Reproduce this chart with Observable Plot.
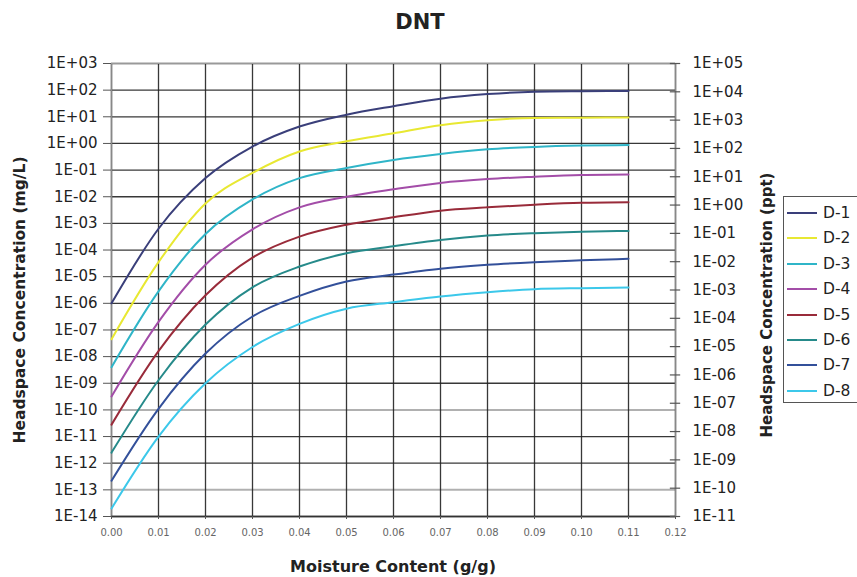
<!DOCTYPE html>
<html>
<head>
<meta charset="utf-8">
<script src="https://cdn.jsdelivr.net/npm/d3@7"></script>
<script src="https://cdn.jsdelivr.net/npm/@observablehq/plot@0.6"></script>
<style>
  body { margin: 0; background: #fff; }
  #wrap { position: relative; width: 857px; height: 577px; overflow: hidden; font-family: "DejaVu Sans", Arial, sans-serif; color: #222; }
  #wrap > svg { position: absolute; left: 0; top: 0; font-family: "DejaVu Sans", Arial, sans-serif; }
  .lbl { position: absolute; white-space: nowrap; transform: translate(-50%, -50%); font-weight: bold; color: #222; }
  .rot { transform: translate(-50%, -50%) rotate(-90deg); }
  #legend { position: absolute; left: 783px; top: 196px; width: 100px; height: 205px; border: 1px solid #555; background: #fff; }
  .item { position: absolute; left: 0; height: 20px; display: flex; align-items: center; font-size: 15.5px; color: #222; }
  .item svg { display: block; margin-left: 3px; margin-right: 6px; }
</style>
</head>
<body>
<div id="wrap"></div>
<script>
// ---- data ----
const moisture = [0.00, 0.01, 0.02, 0.03, 0.04, 0.05, 0.06, 0.07, 0.08, 0.09, 0.10, 0.11];
const seriesNames = ["D-1", "D-2", "D-3", "D-4", "D-5", "D-6", "D-7", "D-8"];
const seriesColors = ["#3a3f7a", "#e8e832", "#2fb5c8", "#a34da8", "#992b3a", "#268a8a", "#33509a", "#3cc8ea"];
const d1 = [1.0e-6, 6.3e-4, 5.0e-2, 7.6e-1, 4.3, 12, 25, 48, 71, 87, 91, 93];
const d2 = [4.5e-8, 3.5e-5, 5.6e-3, 7.8e-2, 5.0e-1, 1.2, 2.4, 4.8, 7.4, 9.1, 9.3, 9.4];
const d3v = [4.0e-9, 2.8e-6, 4.0e-4, 7.9e-3, 5.0e-2, 1.2e-1, 2.4e-1, 4.0e-1, 6.0e-1, 7.4e-1, 8.3e-1, 8.7e-1];
const d4 = [3.2e-10, 2.0e-7, 2.8e-5, 6.0e-4, 4.0e-3, 1.0e-2, 1.9e-2, 3.3e-2, 4.6e-2, 5.6e-2, 6.5e-2, 6.8e-2];
const d5 = [2.8e-11, 1.6e-8, 2.0e-6, 5.2e-5, 3.2e-4, 8.9e-4, 1.7e-3, 3.0e-3, 4.0e-3, 5.0e-3, 5.9e-3, 6.2e-3];
const d6 = [2.5e-12, 1.3e-9, 1.6e-7, 4.0e-6, 2.4e-5, 7.6e-5, 1.4e-4, 2.4e-4, 3.5e-4, 4.3e-4, 4.9e-4, 5.2e-4];
const d7 = [2.2e-13, 1.1e-10, 1.3e-8, 3.2e-7, 1.9e-6, 6.6e-6, 1.2e-5, 2.0e-5, 2.8e-5, 3.5e-5, 4.1e-5, 4.7e-5];
const d8 = [2.0e-14, 1.0e-11, 1.0e-9, 2.3e-8, 1.7e-7, 6.3e-7, 1.1e-6, 1.8e-6, 2.6e-6, 3.4e-6, 3.7e-6, 3.9e-6];
const seriesValues = [d1, d2, d3v, d4, d5, d6, d7, d8];

const leftTickExps = [3, 2, 1, 0, -1, -2, -3, -4, -5, -6, -7, -8, -9, -10, -11, -12, -13, -14];
const rightTickExps = [5, 4, 3, 2, 1, 0, -1, -2, -3, -4, -5, -6, -7, -8, -9, -10, -11];
const xTicks = [0.00, 0.01, 0.02, 0.03, 0.04, 0.05, 0.06, 0.07, 0.08, 0.09, 0.10, 0.11, 0.12];
const lightGridExps = [-10, -13];

const chartTitle = "DNT";
const xTitle = "Moisture Content (g/g)";
const yLeftTitle = "Headspace Concentration (mg/L)";
const yRightTitle = "Headspace Concentration (ppt)";

// ---- build ----
const rows = seriesNames.flatMap((name, i) =>
  moisture.map((m, j) => ({ series: name, x: m, y: seriesValues[i][j] })));

const expFmt = e => "1E" + (e >= 0 ? "+" : "-") + String(Math.abs(e)).padStart(2, "0");
const leftTicks = leftTickExps.map(e => 10 ** e);
const darkGrid = leftTicks.filter((t, i) => !lightGridExps.includes(leftTickExps[i]));
const lightGrid = lightGridExps.map(e => 10 ** e);
// secondary axis: 1E+05..1E-11 (ppt) spans the same height as 1E+03..1E-14 (mg/L)
const rightToLeft = e => 10 ** (-14 + (e + 11) * 17 / 16);

const chart = Plot.plot({
  width: 857,
  height: 577,
  marginLeft: 111,
  marginRight: 182,
  marginTop: 63,
  marginBottom: 61,
  x: { domain: [0, 0.12] },
  y: { type: "log", domain: [1e-14, 1e3] },
  color: { domain: seriesNames, range: seriesColors },
  marks: [
    Plot.gridY(lightGrid, { stroke: "#b0b0b0", strokeOpacity: 1, strokeWidth: 2 }),
    Plot.gridY(darkGrid, { stroke: "#222", strokeOpacity: 0.9, strokeWidth: 1.3 }),
    Plot.gridX(xTicks, { stroke: "#222", strokeOpacity: 0.9, strokeWidth: 1.3 }),
    Plot.ruleX([0], { stroke: "#888", strokeWidth: 1.5 }),
    Plot.ruleX([0.12], { stroke: "#888", strokeWidth: 1.5 }),
    Plot.ruleY([1e3], { stroke: "#999", strokeWidth: 1.2 }),
    Plot.ruleY([1e-14], { stroke: "#333", strokeWidth: 1.5 }),
    Plot.axisY(leftTicks, {
      anchor: "left", tickFormat: d => expFmt(Math.round(Math.log10(d))),
      tickSize: 8, tickPadding: 6, fontSize: 15, fill: "#222", stroke: "#555", label: null
    }),
    Plot.axisX(xTicks, {
      anchor: "bottom", tickFormat: d => d.toFixed(2), tickSize: 3, tickPadding: 9,
      fontSize: 10, fill: "#666", stroke: "#555", label: null
    }),
    Plot.line(rows, { x: "x", y: "y", stroke: "series", strokeWidth: 2, curve: "monotone-x" }),
    Plot.ruleY(rightTickExps, { y: rightToLeft, x1: 0.1189, x2: 0.1211, stroke: "#555", strokeWidth: 1.2 }),
    Plot.text(rightTickExps, {
      y: rightToLeft, text: expFmt, frameAnchor: "right", dx: 17, textAnchor: "start",
      fontSize: 15, fill: "#222"
    })
  ]
});

const wrap = document.getElementById("wrap");
wrap.appendChild(chart);

function addLabel(text, x, y, size, rotate) {
  const d = document.createElement("div");
  d.className = "lbl" + (rotate ? " rot" : "");
  d.style.left = x + "px";
  d.style.top = y + "px";
  d.style.fontSize = size + "px";
  d.textContent = text;
  wrap.appendChild(d);
}
addLabel(chartTitle, 420, 22, 21, false);
addLabel(xTitle, 393, 566, 16, false);
addLabel(yLeftTitle, 20, 300, 15.5, true);
addLabel(yRightTitle, 767, 305, 15, true);

const legend = document.createElement("div");
legend.id = "legend";
seriesNames.forEach((name, i) => {
  const it = document.createElement("div");
  it.className = "item";
  it.style.top = (6 + i * 25.4) + "px";
  it.innerHTML = `<svg width="30" height="4"><line x1="0" y1="2" x2="30" y2="2" stroke="${seriesColors[i]}" stroke-width="2"/></svg><span>${name}</span>`;
  legend.appendChild(it);
});
wrap.appendChild(legend);
</script>
</body>
</html>
